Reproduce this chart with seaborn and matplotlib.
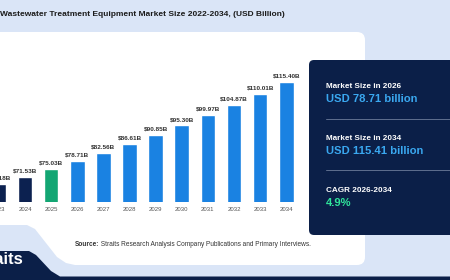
import matplotlib
matplotlib.use("Agg")
import matplotlib.pyplot as plt
import seaborn as sns
import pandas as pd
from matplotlib.patches import FancyBboxPatch, Polygon

years = ["2023", "2024", "2025", "2026", "2027", "2028", "2029", "2030", "2031", "2032", "2033", "2034"]
values = [68.18, 71.53, 75.03, 78.71, 82.56, 86.61, 90.85, 95.30, 99.97, 104.87, 110.01, 115.40]
bar_colors = ["#0c2150", "#0c2150", "#13a673"] + ["#1a82e2"] * 9
title = "Wastewater Treatment Equipment Market Size 2022-2034, (USD Billion)"
panel_items = [("Market Size in 2026", "USD 78.71 billion", "#3aa8f0"),
               ("Market Size in 2034", "USD 115.41 billion", "#3aa8f0"),
               ("CAGR 2026-2034", "4.9%", "#2fe39a")]

sns.set_theme(style="white")
plt.rcParams['font.family'] = ['Liberation Sans', 'DejaVu Sans']

W, H = 450, 280
fig = plt.figure(figsize=(4.5, 2.8), dpi=100)
BG = "#dae5f7"
NAVY = "#0b1f48"
fig.patch.set_facecolor(BG)

# background drawing layer in pixel coordinates
bg = fig.add_axes([0, 0, 1, 1], zorder=0)
bg.set_xlim(0, W)
bg.set_ylim(H, 0)
bg.axis("off")
bg.add_patch(FancyBboxPatch((-30, 32), 395, 233, boxstyle="round,pad=0,rounding_size=8",
                            fc="white", ec="none"))
bg.add_patch(Polygon([(-5, 225), (27, 225), (35, 229), (57, 257), (66, 263), (75, 265),
                      (75, 272), (-5, 272)], closed=True, fc=BG, ec="none"))
bg.add_patch(Polygon([(-5, 251), (29, 251), (36, 255), (51, 271), (60, 276.5), (455, 276.5),
                      (455, 285), (-5, 285)], closed=True, fc=NAVY, ec="none"))
bg.add_patch(FancyBboxPatch((309, 60), 160, 175, boxstyle="round,pad=0,rounding_size=5",
                            fc=NAVY, ec="none"))

bg.text(0.5, 15, title, ha="left", va="center", fontsize=6.05, fontweight="bold", color="#1b1b1b")

ys = [(86, 99.5), (139, 151), (191, 203.5)]
for (lab, val, col), (y1, y2) in zip(panel_items, ys):
    bg.text(326, y1, lab, ha="left", va="center", fontsize=5.9, fontweight="bold", color="white")
    bg.text(326, y2, val, ha="left", va="center", fontsize=8.1, fontweight="bold", color=col)
for yl in (118.5, 170):
    bg.plot([326, 450], [yl, yl], color="#5f6f8f", lw=0.7)

src = bg.text(74.5, 245, "Source:", ha="left", va="center", fontsize=4.7, fontweight="bold",
              color="#333333")
bg.annotate(" Straits Research Analysis Company Publications and Primary Interviews.",
            xy=(1, 0), xycoords=src, ha="left", va="bottom", fontsize=4.7, color="#333333")
bg.text(23, 259, "Straits", ha="right", va="center", fontsize=12, fontweight="bold", color="white")

# chart axes (extends a little past the left edge, as the reference is cropped there)
left_px, right_px, bot_px, top_px = -20, 300, 201.7, 40
ax = fig.add_axes([left_px / W, 1 - bot_px / H, (right_px - left_px) / W, (bot_px - top_px) / H], zorder=1)
ax.patch.set_alpha(0)
df = pd.DataFrame({"year": years, "value": values})
sns.barplot(data=df, x="year", y="value", hue="year", palette=bar_colors, legend=False,
            width=0.56, ax=ax, saturation=1)
ppu = 287.3 / 11
x_at_px0 = 1.1 / ppu
x0 = x_at_px0 + left_px / ppu
ax.set_xlim(x0, x0 + (right_px - left_px) / ppu)
ax.set_ylim(60, 60 + (bot_px - top_px) / 2.159)
for c in ax.containers:
    ax.bar_label(c, labels=[f"${v:.2f}B" for v in c.datavalues], padding=2.5,
                 fontsize=4.6, fontweight="bold", color="#333333")
ax.set_xlabel("")
ax.set_ylabel("")
ax.set_yticks([])
ax.tick_params(axis="x", length=0, pad=4, labelsize=4.3, labelcolor="#555555")
for s in ax.spines.values():
    s.set_visible(False)

fig.savefig("out.png", dpi=100, facecolor=BG)
